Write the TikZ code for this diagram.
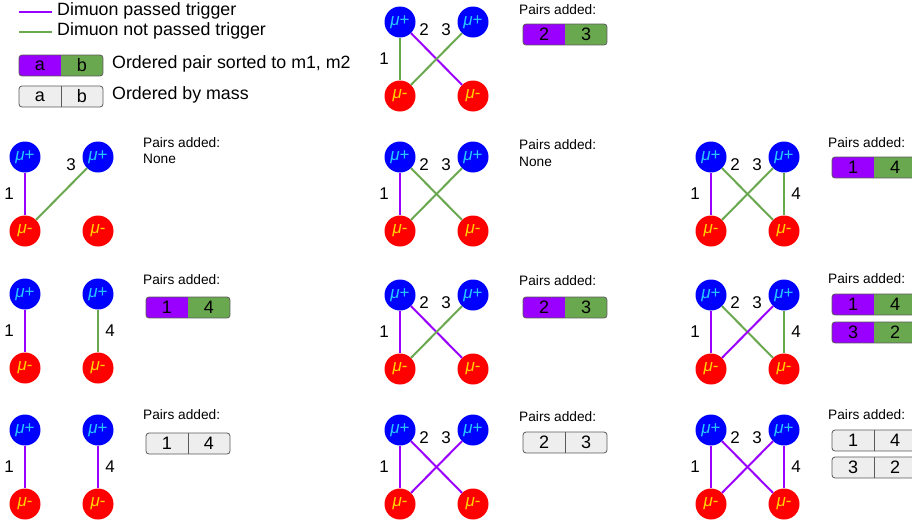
\documentclass[tikz,border=0pt]{standalone}
\usepackage{fontspec}
\setmainfont{Liberation Sans}
\definecolor{mpurple}{RGB}{153,0,255}
\definecolor{mgreen}{RGB}{106,168,79}
\definecolor{mblue}{RGB}{0,0,255}
\definecolor{mred}{RGB}{255,0,0}
\definecolor{mcyan}{RGB}{40,200,255}
\definecolor{myellow}{RGB}{255,210,0}
\definecolor{boxgray}{RGB}{238,238,238}
\definecolor{boxline}{RGB}{90,90,90}
\tikzset{
  mup/.style={circle, fill=mblue, minimum size=31pt, inner sep=0pt, text=mcyan, font=\fontsize{17}{17}\selectfont},
  mum/.style={circle, fill=mred, minimum size=31pt, inner sep=0pt, text=myellow, font=\fontsize{17}{17}\selectfont},
  pass/.style={draw=mpurple, line width=2pt},
  fail/.style={draw=mgreen, line width=2pt},
  lab/.style={inner sep=0pt, font=\fontsize{17}{17}\selectfont},
  boxtxt/.style={inner sep=0pt, font=\fontsize{18}{18}\selectfont},
  small/.style={inner sep=0pt, anchor=west, font=\fontsize{13.7}{14}\selectfont},
  legtxt/.style={inner sep=0pt, anchor=west, font=\fontsize{17.8}{18}\selectfont},
  boxborder/.style={draw=boxline, line width=0.8pt, rounded corners=3pt},
}
\newcommand\mupanel[3]{%
  \node[mup] (#1a) at (#2,#3) {\textit{μ}+};
  \node[mup] (#1b) at (#2+73,#3) {\textit{μ}+};
  \node[mum] (#1c) at (#2,#3+74) {\textit{μ}-};
  \node[mum] (#1d) at (#2+73,#3+74) {\textit{μ}-};
}
\newcommand\labI[3]{\node[lab] (#1l1) at (#2-16,#3+37) {1};}
\newcommand\labII[3]{\node[lab] (#1l2) at (#2+24,#3+8) {2};}
\newcommand\labIII[3]{\node[lab] (#1l3) at (#2+46,#3+8) {3};}
\newcommand\labIV[3]{\node[lab] (#1l4) at (#2+85,#3+37) {4};}
\newcommand\pairc[5]{%
  \begin{scope}
    \clip[rounded corners=3pt] (#2,#3) rectangle (#2+84,#3+21);
    \fill[mpurple] (#2,#3) rectangle (#2+42,#3+21);
    \fill[mgreen] (#2+42,#3) rectangle (#2+84,#3+21);
  \end{scope}
  \draw[boxborder] (#2,#3) rectangle (#2+84,#3+21);
  \node[boxtxt] (#1x) at (#2+21,#3+10.5) {#4};
  \node[boxtxt] (#1y) at (#2+63,#3+10.5) {#5};
}
\newcommand\pairg[5]{%
  \draw[boxborder, fill=boxgray] (#2,#3) rectangle (#2+84,#3+21);
  \draw[draw=boxline, line width=0.8pt] (#2+42,#3) -- (#2+42,#3+21);
  \node[boxtxt] (#1x) at (#2+21,#3+10.5) {#4};
  \node[boxtxt] (#1y) at (#2+63,#3+10.5) {#5};
}
\begin{document}
\begin{tikzpicture}[x=1pt,y=-1pt]
\useasboundingbox (0,0) rectangle (912,523);
% legend
\coordinate (lp1) at (19,12); \coordinate (lp2) at (52,12);
\coordinate (lg1) at (19,32); \coordinate (lg2) at (52,32);
\draw[draw=mpurple, line width=1.5pt] (lp1) -- (lp2);
\draw[draw=mgreen, line width=1.5pt] (lg1) -- (lg2);
\node[legtxt] (t1) at (57,11) {Dimuon passed trigger};
\node[legtxt] (t2) at (57,31) {Dimuon not passed trigger};
\pairc{lega}{19}{55}{a}{b}
\node[legtxt] (t3) at (112,64) {Ordered pair sorted to m1, m2};
\pairg{legb}{19}{86}{a}{b}
\node[legtxt] (t4) at (112,95) {Ordered by mass};

% row 1 middle
\mupanel{M1}{400}{22}
\draw[fail] (M1a) -- (M1c);
\draw[pass] (M1a) -- (M1d);
\draw[fail] (M1b) -- (M1c);
\labI{M1}{400}{22}\labII{M1}{400}{22}\labIII{M1}{400}{22}
\node[small] (M1p) at (519,10) {Pairs added:};
\pairc{M1q}{523}{24}{2}{3}

% row 2 left
\mupanel{L2}{25}{157}
\draw[pass] (L2a) -- (L2c);
\draw[fail] (L2b) -- (L2c);
\labI{L2}{25}{157}\labIII{L2}{25}{157}
\node[small] (L2p) at (143,143) {Pairs added:};
\node[small] (L2n) at (143,159) {None};

% row 2 middle
\mupanel{M2}{400}{157}
\draw[pass] (M2a) -- (M2c);
\draw[fail] (M2a) -- (M2d);
\draw[fail] (M2b) -- (M2c);
\labI{M2}{400}{157}\labII{M2}{400}{157}\labIII{M2}{400}{157}
\node[small] (M2p) at (519,145) {Pairs added:};
\node[small] (M2n) at (519,162) {None};

% row 2 right
\mupanel{R2}{711}{157}
\draw[pass] (R2a) -- (R2c);
\draw[fail] (R2a) -- (R2d);
\draw[fail] (R2b) -- (R2c);
\draw[fail] (R2b) -- (R2d);
\labI{R2}{711}{157}\labII{R2}{711}{157}\labIII{R2}{711}{157}\labIV{R2}{711}{157}
\node[small] (R2p) at (828,143) {Pairs added:};
\pairc{R2q}{832}{157}{1}{4}

% row 3 left
\mupanel{L3}{25}{294}
\draw[pass] (L3a) -- (L3c);
\draw[fail] (L3b) -- (L3d);
\labI{L3}{25}{294}\labIV{L3}{25}{294}
\node[small] (L3p) at (143,280) {Pairs added:};
\pairc{L3q}{146}{297}{1}{4}

% row 3 middle
\mupanel{M3}{400}{295}
\draw[pass] (M3a) -- (M3c);
\draw[pass] (M3a) -- (M3d);
\draw[fail] (M3b) -- (M3c);
\labI{M3}{400}{295}\labII{M3}{400}{295}\labIII{M3}{400}{295}
\node[small] (M3p) at (519,281) {Pairs added:};
\pairc{M3q}{523}{297}{2}{3}

% row 3 right
\mupanel{R3}{711}{295}
\draw[pass] (R3a) -- (R3c);
\draw[fail] (R3a) -- (R3d);
\draw[pass] (R3b) -- (R3c);
\draw[fail] (R3b) -- (R3d);
\labI{R3}{711}{295}\labII{R3}{711}{295}\labIII{R3}{711}{295}\labIV{R3}{711}{295}
\node[small] (R3p) at (828,279) {Pairs added:};
\pairc{R3q}{832}{294}{1}{4}
\pairc{R3r}{832}{322}{3}{2}

% row 4 left
\mupanel{L4}{25}{430}
\draw[pass] (L4a) -- (L4c);
\draw[pass] (L4b) -- (L4d);
\labI{L4}{25}{430}\labIV{L4}{25}{430}
\node[small] (L4p) at (143,415) {Pairs added:};
\pairg{L4q}{146}{433}{1}{4}

% row 4 middle
\mupanel{M4}{400}{430}
\draw[pass] (M4a) -- (M4c);
\draw[pass] (M4a) -- (M4d);
\draw[pass] (M4b) -- (M4c);
\labI{M4}{400}{430}\labII{M4}{400}{430}\labIII{M4}{400}{430}
\node[small] (M4p) at (519,417) {Pairs added:};
\pairg{M4q}{523}{432}{2}{3}

% row 4 right
\mupanel{R4}{711}{430}
\draw[pass] (R4a) -- (R4c);
\draw[pass] (R4a) -- (R4d);
\draw[pass] (R4b) -- (R4c);
\draw[pass] (R4b) -- (R4d);
\labI{R4}{711}{430}\labII{R4}{711}{430}\labIII{R4}{711}{430}\labIV{R4}{711}{430}
\node[small] (R4p) at (828,415) {Pairs added:};
\pairg{R4q}{832}{430}{1}{4}
\pairg{R4r}{832}{457}{3}{2}
\end{tikzpicture}
\end{document}
